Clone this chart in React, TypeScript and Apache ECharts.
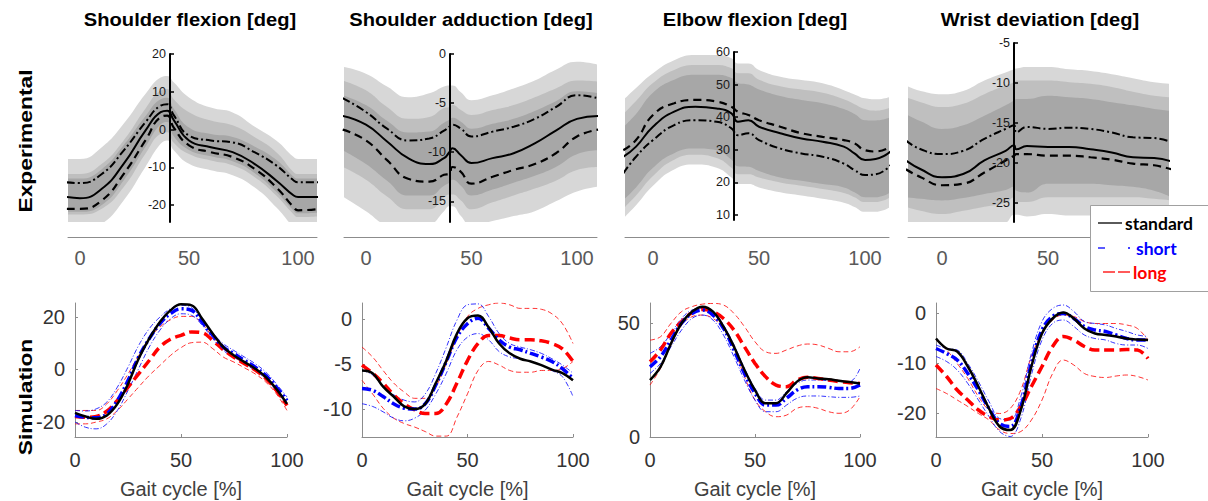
import React, { useEffect, useRef } from "react";
import * as echarts from "echarts";

// ---------------- data ----------------
const TITLES = ["Shoulder flexion [deg]", "Shoulder adduction [deg]", "Elbow flexion [deg]", "Wrist deviation [deg]"];
const ROW_LABELS = ["Experimental", "Simulation"];
const X_TICKS = [0, 50, 100];
const X_TICKS_LAST_TOP = [0, 50];
const X_NAME = "Gait cycle [%]";
const LEGEND_NAMES = ["standard", "short", "long"];

// Experimental panels (x in % gait cycle)
const EXP1_X = [-6, 0, 10, 20, 30, 37, 40, 43, 50, 60, 70, 80, 90, 98, 100, 110];
const EXP1_MEAN = [-17.9, -18.2, -15.7, -9.1, -0.3, 4.6, 5.0, 2.5, -2.9, -4.7, -6.0, -9.1, -13.5, -17.5, -17.9, -17.9];
const EXP1_DASHDOT = [-14, -14.2, -11.8, -5.6, 1.9, 6.3, 6.7, 3.8, -1.6, -2.9, -3.4, -6.0, -9.5, -13.5, -14, -14];
const EXP1_DASHED = [-21, -21, -18.8, -11.8, -2.9, 3.3, 3.7, 0.5, -4.2, -6.0, -7.3, -10.4, -15.3, -20.6, -21.4, -21];
const EXP1_OUT_HI = [-7.8, -7.8, -4.7, 1.5, 9.4, 13.8, 14.2, 12.5, 8.5, 5.8, 4.5, 0.8, -2.9, -7.3, -7.8, -7.8];
const EXP1_OUT_LO = [-27, -27, -25, -18.8, -9.9, -3.8, -2.9, -5.5, -9.1, -10.8, -12.1, -15.3, -20.6, -26, -27, -27];
const EXP1_MID_HI = [-11.8, -11.8, -9.1, -2.9, 5.5, 10.3, 10.7, 8, 4.6, 2.4, 1.1, -2, -6, -11.3, -11.8, -11.8];
const EXP1_MID_LO = [-22.5, -22.5, -21, -15.3, -6.4, -1.1, -0.7, -3.5, -6.5, -8.2, -9.5, -12.6, -17.5, -22.5, -23.2, -23];
const EXP1_IN_HI = [-13, -13, -10.5, -4.2, 3.5, 8, 8.4, 5.5, 0.5, -1.2, -2, -4.5, -8, -12.5, -13, -13];
const EXP1_IN_LO = [-21.8, -21.8, -20, -13.5, -4.6, 1.4, 2, -1.8, -5.4, -7.1, -8.4, -11.5, -16.5, -21.5, -22.2, -22];
const EXP1_YTICKS = [-20, -10, 0, 10, 20];

const EXP2_X = [-11, 0, 10, 20, 30, 37, 39.5, 41, 45, 50, 60, 70, 80, 90, 100, 110];
const EXP2_MEAN = [-6.3, -7.2, -8.9, -10.6, -11.2, -10.6, -10.0, -9.6, -10.3, -11.1, -10.6, -10.1, -9.1, -7.8, -6.6, -6.3];
const EXP2_DASHDOT = [-4.5, -5.9, -7.6, -8.8, -8.6, -7.8, -7.4, -7.2, -7.6, -8.4, -7.9, -7.4, -6.6, -5.4, -4.2, -4.5];
const EXP2_DASHED = [-7.7, -8.8, -10.8, -12.7, -13.0, -12.3, -12.2, -11.5, -12.0, -13.2, -12.5, -11.8, -11.2, -10.1, -8.4, -7.7];
const EXP2_OUT_HI = [-1.3, -2.0, -3.3, -4.4, -4.0, -3.3, -3.2, -3.2, -3.9, -4.7, -4.2, -3.5, -2.7, -1.6, -0.8, -1.1];
const EXP2_OUT_LO = [-14.5, -16, -17.5, -18, -17.5, -16, -15.5, -15.5, -16.5, -17.5, -17, -16.5, -16, -15, -14, -13.5];
const EXP2_MID_HI = [-2.7, -3.7, -5.4, -6.6, -6.4, -5.5, -5.4, -5.2, -5.7, -6.2, -5.7, -5.2, -4.4, -3.5, -2.7, -2.8];
const EXP2_MID_LO = [-11.5, -12.8, -14.5, -15.8, -15.8, -14.6, -14.3, -14.3, -14.9, -15.8, -15.1, -14.4, -13.7, -12.9, -11.8, -11.5];
const EXP2_IN_HI = [-4.2, -5.2, -6.8, -8.0, -7.9, -7.0, -6.7, -6.5, -6.9, -7.6, -7.1, -6.6, -5.8, -4.8, -3.8, -4.0];
const EXP2_IN_LO = [-9.8, -11.2, -12.9, -14.4, -14.4, -13.4, -13.1, -12.8, -13.4, -14.4, -13.8, -13.1, -12.4, -11.5, -10.2, -9.8];
const EXP2_YTICKS = [-15, -10, -5, 0];

const EXP3_X = [-14, -8, 0, 10, 20, 30, 37, 40, 45, 50, 60, 70, 80, 90, 95, 100, 105, 112];
const EXP3_MEAN = [27.9, 31, 37.1, 41.7, 43.2, 42.7, 41.2, 38.6, 39.1, 37.1, 35.1, 33.5, 32.5, 31, 28.9, 26.9, 27.2, 29.5];
const EXP3_DASHED = [29.9, 33, 40.7, 44.3, 45.3, 44.8, 43.2, 41.7, 40.7, 39.1, 37.1, 35.1, 34, 33, 32, 29.9, 29.5, 31];
const EXP3_DASHDOT = [22.8, 27.9, 33, 37.6, 39.1, 38.6, 36.6, 34.5, 35.1, 33, 30.4, 28.9, 27.9, 25.8, 23.8, 22.3, 22.5, 25.3];
const EXP3_OUT_HI = [45.3, 49, 53.5, 57.5, 59.1, 59.1, 58.1, 56.5, 56.5, 54.5, 52.4, 51.4, 50.4, 48.3, 47, 45.8, 45.5, 46.3];
const EXP3_OUT_LO = [9, 13, 19, 24, 25.5, 24.5, 21.5, 19.5, 19.5, 18.5, 17, 16, 15, 13.8, 12.5, 11, 11, 12.5];
const EXP3_MID_HI = [41, 45, 50.5, 54.5, 56, 56, 55, 53.5, 53.5, 51.5, 49.5, 48.5, 47.5, 45.5, 44, 42.5, 42, 43];
const EXP3_MID_LO = [12, 16, 22, 27, 28.5, 27.5, 24.5, 22.5, 22.5, 21.5, 20, 19, 18, 16.8, 15.5, 14, 14, 15.5];
const EXP3_IN_HI = [37, 41, 47.5, 51.5, 53, 53, 52, 50.5, 50, 48.5, 46.5, 45.3, 44.3, 42.5, 41, 39.1, 39, 40];
const EXP3_IN_LO = [14.6, 18.5, 24.5, 29, 30.4, 29.9, 27, 25, 24.8, 23.5, 21.5, 20.5, 19.5, 18.5, 17, 15.5, 15.5, 17];
const EXP3_YTICKS = [10, 20, 30, 40, 50, 60];

const EXP4_X = [-17, -10, 0, 10, 20, 30, 34, 35, 40, 50, 60, 70, 80, 90, 100, 108];
const EXP4_MEAN = [-19.7, -20.8, -21.8, -21.4, -19.7, -18.5, -17.8, -18.3, -17.9, -18, -18, -18.3, -18.7, -19.3, -19.4, -19.8];
const EXP4_DASHDOT = [-17.2, -18.3, -18.9, -18.5, -17, -15.75, -15.3, -16.2, -15.5, -15.75, -15.6, -15.75, -16.2, -16.8, -16.9, -17.4];
const EXP4_DASHED = [-20.8, -21.8, -22.8, -22.6, -21.2, -19.7, -19.1, -18.9, -18.9, -19.1, -19.1, -19.3, -19.6, -20.1, -20.3, -20.8];
const EXP4_OUT_HI = [-10.3, -11, -11.4, -11, -9.7, -8.7, -8.3, -8.2, -8, -8, -8.3, -8.5, -8.9, -9.4, -9.9, -10.1];
const EXP4_OUT_LO = [-28, -28, -28, -28, -28, -27.5, -26.5, -26.5, -26.7, -26.4, -26.6, -26.6, -26.8, -26.8, -26.8, -26.8];
const EXP4_MID_HI = [-11.8, -12.4, -13, -12.6, -11.4, -10.3, -9.9, -9.7, -9.7, -9.7, -9.9, -10.1, -10.5, -11.1, -11.6, -11.8];
const EXP4_MID_LO = [-25.5, -26, -26.4, -26, -25.5, -25, -24.3, -24.9, -24.9, -24.3, -24.3, -24.3, -24.3, -24.3, -24.5, -24.7];
const EXP4_IN_HI = [-13.9, -14.8, -15.75, -15.3, -14.1, -12.8, -12.2, -12, -12, -11.6, -11.8, -12, -12.4, -12.8, -13.25, -13.5];
const EXP4_IN_LO = [-24.3, -24.5, -24.7, -24.4, -23.9, -23.4, -23, -23.5, -23.7, -22.6, -22.6, -22.6, -22.8, -23, -23.5, -24.3];
const EXP4_YTICKS = [-25, -20, -15, -10, -5];

// Simulation panels
const SIM_X = [0, 5, 10, 15, 20, 25, 30, 35, 40, 45, 50, 55, 60, 65, 70, 75, 80, 85, 90, 95, 100];

const SIM1_STD = [-16.5, -17.9, -18.8, -17.5, -13.1, -5.5, 4.1, 11.7, 18.0, 22.5, 24.8, 24.4, 19.3, 13.6, 8.5, 5.3, 2.8, 0.3, -2.9, -7.4, -13.1];
const SIM1_SHORT = [-17.5, -18.2, -18.4, -16.9, -11.8, -4.2, 4.7, 11.7, 17.4, 21.2, 23.1, 22.5, 18.0, 13.0, 8.5, 6.0, 3.4, 0.9, -2.3, -6.7, -11.8];
const SIM1_SHORT_HI = [-15.6, -15.8, -15.0, -12.4, -6.7, 0.9, 9.1, 15.5, 19.9, 23.1, 24.4, 23.5, 18.7, 13.8, 9.8, 7.2, 4.7, 2.2, -1.0, -5.5, -10.5];
const SIM1_SHORT_LO = [-20.0, -22.0, -22.6, -20.7, -15.6, -8.0, 0.3, 8.5, 14.9, 19.3, 21.2, 20.6, 16.8, 11.7, 7.2, 4.7, 2.2, -0.4, -3.6, -8.0, -13.1];
const SIM1_LONG = [-17.9, -18.2, -17.9, -15.9, -11.8, -6.7, -1.7, 3.4, 8.5, 11.5, 13.0, 14.3, 14.0, 11.0, 7.5, 4.6, 2.2, -0.2, -3.4, -8.0, -13.7];
const SIM1_LONG_HI = [-15.6, -15.6, -15.6, -13.1, -8.0, -1.7, 5.3, 11.7, 16.1, 18.9, 20.2, 20.2, 17.4, 12.3, 7.9, 4.7, 2.2, -0.4, -3.6, -8.6, -14.3];
const SIM1_LONG_LO = [-20.7, -20.7, -20.0, -18.8, -15.6, -11.2, -6.7, -2.3, 1.5, 5.3, 8.3, 10.2, 10.4, 7.9, 4.7, 2.8, 0.6, -1.7, -4.8, -9.3, -15.6];
const SIM1_YTICKS = [-20, 0, 20];

const SIM2_STD = [-5.7, -6.0, -7.5, -8.6, -9.7, -10.0, -9.4, -7.1, -4.6, -1.6, 0.1, 0.4, -0.9, -2.7, -3.8, -4.4, -4.7, -5.1, -5.6, -6.0, -6.8];
const SIM2_SHORT = [-7.7, -7.9, -8.6, -9.4, -9.9, -10.0, -9.4, -7.3, -4.7, -2.0, -0.5, 0.1, -1.0, -2.3, -3.1, -3.4, -3.8, -4.2, -4.7, -5.5, -6.6];
const SIM2_SHORT_HI = [-5.7, -6.2, -7.5, -8.4, -9.0, -9.2, -8.3, -6.0, -3.1, -0.1, 1.6, 1.7, 0.3, -1.6, -2.7, -3.1, -3.4, -3.8, -4.4, -5.1, -6.0];
const SIM2_SHORT_LO = [-9.4, -9.7, -10.3, -11.0, -11.3, -11.0, -10.1, -8.3, -6.0, -3.4, -2.0, -1.6, -2.3, -3.6, -4.2, -4.4, -4.7, -5.1, -5.7, -6.4, -8.6];
const SIM2_LONG = [-5.1, -6.0, -7.1, -8.4, -9.4, -10.1, -10.5, -10.5, -9.4, -7.1, -4.6, -2.7, -1.8, -1.8, -2.1, -2.3, -2.3, -2.4, -2.7, -3.3, -4.7];
const SIM2_LONG_HI = [-3.1, -4.2, -5.7, -7.1, -8.1, -8.8, -8.8, -7.5, -4.9, -2.0, 0.3, 1.2, 1.6, 1.8, 1.6, 1.2, 1.2, 1.1, 0.6, -0.5, -2.7];
const SIM2_LONG_LO = [-6.8, -8.3, -9.9, -11.0, -11.6, -12.0, -12.5, -13.0, -13.0, -10.9, -8.3, -5.7, -4.7, -5.1, -5.7, -5.9, -5.9, -5.7, -5.7, -5.5, -4.7];
const SIM2_YTICKS = [-10, -5, 0];

const SIM3_STD = [25, 30.8, 41, 49.9, 55, 57.2, 55, 48.4, 39.6, 29.4, 20.6, 14.8, 14.8, 19.2, 24.3, 26.2, 25.7, 25.3, 24.7, 24.1, 23.5];
const SIM3_SHORT = [30.8, 35.2, 42.5, 49.9, 54.2, 55.7, 53.5, 47.7, 38.2, 27.9, 19.2, 14.0, 14.0, 17.0, 20.6, 22.1, 22.1, 21.8, 21.3, 21.3, 22.8];
const SIM3_SHORT_HI = [36.7, 39.6, 45.5, 52, 55.7, 56.4, 55, 49.1, 40.4, 30.1, 21.3, 16.2, 16.2, 19.9, 23.5, 25, 25, 24.7, 24.3, 24.3, 30.1];
const SIM3_SHORT_LO = [27.9, 32.3, 39.6, 46.9, 52, 53.5, 51.3, 44.7, 35.2, 25, 16.2, 11.1, 11.1, 14, 17, 18, 18, 17.7, 17.4, 17.4, 18];
const SIM3_LONG = [33, 38.2, 45.5, 50.6, 54.5, 56, 55, 52, 46.9, 39.6, 32.3, 26.5, 22.8, 22.1, 25, 26.2, 25.7, 25, 24.3, 23.8, 23.5];
const SIM3_LONG_HI = [42.5, 44, 49.9, 55, 57.2, 58.3, 58.6, 57.9, 54.2, 48.4, 41.8, 37.4, 36.7, 38.2, 39.9, 40.8, 40.4, 38.9, 37.4, 37.4, 39.6];
const SIM3_LONG_LO = [22.8, 30.1, 40.4, 49.1, 52.8, 53.5, 52, 47.7, 38.9, 26.5, 16.2, 11.1, 8.9, 9.6, 12.6, 13.3, 12.6, 11.1, 10.4, 11.8, 17.7];
const SIM3_YTICKS = [0, 50];

const SIM4_STD = [-5.1, -7.1, -7.7, -10.7, -14.7, -19.1, -22.7, -23.4, -19.4, -10.7, -4.1, -1.1, 0.1, -1.1, -3.1, -4.1, -4.4, -4.7, -5.1, -5.3, -5.4];
const SIM4_SHORT = [-7.1, -8.1, -9.4, -12.1, -15.4, -19.1, -22.1, -22.7, -18.7, -10.1, -3.4, -0.7, -0.1, -1.1, -2.7, -3.4, -3.7, -4.4, -5.1, -5.4, -5.4];
const SIM4_SHORT_HI = [-6.4, -7.1, -7.4, -10.1, -13.7, -17.7, -21.1, -21.4, -16.7, -8.1, -1.7, 0.9, 1.6, 0.3, -1.7, -2.1, -2.4, -3.1, -3.7, -4.4, -4.7];
const SIM4_SHORT_LO = [-8.7, -9.7, -11.4, -14.1, -17.4, -20.7, -23.7, -24.7, -21.1, -12.4, -5.4, -2.1, -1.4, -2.7, -4.4, -5.1, -5.4, -6.1, -6.4, -6.4, -7.1];
const SIM4_LONG = [-10.4, -12.7, -15.4, -17.4, -19.4, -20.7, -21.4, -21.1, -18.7, -14.7, -10.7, -6.7, -4.7, -5.4, -6.7, -7.4, -7.4, -7.4, -7.3, -7.4, -9.1];
const SIM4_LONG_HI = [-5.4, -7.4, -10.1, -13.1, -16.7, -19.4, -20.1, -19.1, -15.4, -8.7, -4.1, -1.4, -0.4, -0.7, -1.7, -2.1, -2.1, -2.1, -2.4, -3.1, -5.4];
const SIM4_LONG_LO = [-15.1, -16.1, -17.4, -18.7, -20.1, -21.4, -23.4, -24.1, -23.7, -21.4, -17.4, -12.1, -9.4, -10.4, -12.1, -12.7, -12.9, -12.6, -12.4, -12.7, -13.4];
const SIM4_YTICKS = [-20, -10, 0];

// ---------------- assembly ----------------
const EXP = [
  { x: EXP1_X, mean: EXP1_MEAN, dashDot: EXP1_DASHDOT, dashed: EXP1_DASHED, outHi: EXP1_OUT_HI, outLo: EXP1_OUT_LO, midHi: EXP1_MID_HI, midLo: EXP1_MID_LO, inHi: EXP1_IN_HI, inLo: EXP1_IN_LO, yTicks: EXP1_YTICKS, xTicks: X_TICKS },
  { x: EXP2_X, mean: EXP2_MEAN, dashDot: EXP2_DASHDOT, dashed: EXP2_DASHED, outHi: EXP2_OUT_HI, outLo: EXP2_OUT_LO, midHi: EXP2_MID_HI, midLo: EXP2_MID_LO, inHi: EXP2_IN_HI, inLo: EXP2_IN_LO, yTicks: EXP2_YTICKS, xTicks: X_TICKS },
  { x: EXP3_X, mean: EXP3_MEAN, dashDot: EXP3_DASHDOT, dashed: EXP3_DASHED, outHi: EXP3_OUT_HI, outLo: EXP3_OUT_LO, midHi: EXP3_MID_HI, midLo: EXP3_MID_LO, inHi: EXP3_IN_HI, inLo: EXP3_IN_LO, yTicks: EXP3_YTICKS, xTicks: X_TICKS },
  { x: EXP4_X, mean: EXP4_MEAN, dashDot: EXP4_DASHDOT, dashed: EXP4_DASHED, outHi: EXP4_OUT_HI, outLo: EXP4_OUT_LO, midHi: EXP4_MID_HI, midLo: EXP4_MID_LO, inHi: EXP4_IN_HI, inLo: EXP4_IN_LO, yTicks: EXP4_YTICKS, xTicks: X_TICKS_LAST_TOP },
];
const SIM = [
  { std: SIM1_STD, short: SIM1_SHORT, shortHi: SIM1_SHORT_HI, shortLo: SIM1_SHORT_LO, long: SIM1_LONG, longHi: SIM1_LONG_HI, longLo: SIM1_LONG_LO, yTicks: SIM1_YTICKS },
  { std: SIM2_STD, short: SIM2_SHORT, shortHi: SIM2_SHORT_HI, shortLo: SIM2_SHORT_LO, long: SIM2_LONG, longHi: SIM2_LONG_HI, longLo: SIM2_LONG_LO, yTicks: SIM2_YTICKS },
  { std: SIM3_STD, short: SIM3_SHORT, shortHi: SIM3_SHORT_HI, shortLo: SIM3_SHORT_LO, long: SIM3_LONG, longHi: SIM3_LONG_HI, longLo: SIM3_LONG_LO, yTicks: SIM3_YTICKS },
  { std: SIM4_STD, short: SIM4_SHORT, shortHi: SIM4_SHORT_HI, shortLo: SIM4_SHORT_LO, long: SIM4_LONG, longHi: SIM4_LONG_HI, longLo: SIM4_LONG_LO, yTicks: SIM4_YTICKS },
];

// ---------------- layout / style ----------------
const FONT = '"Liberation Sans", Arial, Helvetica, sans-serif';
const TOP_LAYOUT = [
  { left: 68, width: 249, top: 54, height: 168, xMin: -5.5, xMax: 108.7, yMin: -24.5, yMax: 20, axisX: 170, lineY: 237 },
  { left: 344, width: 253, top: 54, height: 168, xMin: -10.4, xMax: 109.5, yMin: -17.1, yMax: 0, axisX: 450, lineY: 237 },
  { left: 625, width: 264, top: 52, height: 168, xMin: -13.2, xMax: 111.3, yMin: 8.5, yMax: 60, axisX: 734, lineY: 237 },
  { left: 908, width: 261, top: 43, height: 179, xMin: -16, xMax: 107, yMin: -27.4, yMax: -5, axisX: 1014, lineY: 237 },
];
const BOT_LAYOUT = [
  { left: 75, width: 212, top: 303, height: 134, yMin: -25.7, yMax: 25.3 },
  { left: 362, width: 211, top: 303, height: 134, yMin: -13.1, yMax: 1.8 },
  { left: 650, width: 210, top: 303, height: 134, yMin: 0, yMax: 58.8 },
  { left: 936, width: 212, top: 303, height: 134, yMin: -24.8, yMax: 2 },
];
const TITLE_X = [190, 471, 755, 1040];
const SHADE_LIGHT = "#d7d7d7";
const SHADE_MID = "#bfbfbf";
const SHADE_DARK = "#a7a7a7";
const BLUE = "#0000ff";
const RED = "#ff0000";
const SMOOTH = 0.5;

const zip = (xs: number[], ys: number[]) => xs.map((x, i) => [x, ys[i]]);

function buildOption() {
  const grid: any[] = [];
  const xAxis: any[] = [];
  const yAxis: any[] = [];
  const series: any[] = [];

  EXP.forEach((p, i) => {
    const L = TOP_LAYOUT[i];
    const gi = grid.length;
    grid.push({ left: L.left, top: L.top, width: L.width, height: L.height, containLabel: false, outerBoundsMode: "none" });
    xAxis.push({
      type: "value", gridIndex: gi, min: L.xMin, max: L.xMax,
      offset: L.lineY - L.top - L.height,
      axisLine: { show: true, onZero: false, lineStyle: { color: "#8c8c8c", width: 1 } },
      axisTick: { show: false }, splitLine: { show: false },
      axisLabel: { customValues: p.xTicks, fontSize: 20, color: "#595959", margin: 11, fontFamily: FONT },
    });
    yAxis.push({ type: "value", gridIndex: gi, min: L.yMin, max: L.yMax, show: false });

    const bands: [number[], string][] = [
      [p.outHi, SHADE_LIGHT], [p.midHi, SHADE_MID], [p.inHi, SHADE_DARK],
      [p.inLo, SHADE_MID], [p.midLo, SHADE_LIGHT], [p.outLo, "#ffffff"],
    ];
    bands.forEach(([vals, color]) => {
      series.push({
        type: "line", xAxisIndex: gi, yAxisIndex: gi, data: zip(p.x, vals),
        smooth: SMOOTH, symbol: "none", silent: true, z: 1,
        lineStyle: { opacity: 0, width: 0 }, areaStyle: { color, opacity: 1, origin: "start" },
      });
    });
    const lines: [number[], any][] = [
      [p.mean, { color: "#000", width: 2, type: "solid" }],
      [p.dashDot, { color: "#000", width: 2, type: [8, 3, 2, 3] }],
      [p.dashed, { color: "#000", width: 2.2, type: [8, 5] }],
    ];
    lines.forEach(([vals, ls]) => {
      series.push({
        type: "line", xAxisIndex: gi, yAxisIndex: gi, data: zip(p.x, vals),
        smooth: SMOOTH, symbol: "none", silent: true, z: 3, lineStyle: ls,
      });
    });

    // the vertical axis drawn inside the panel
    const ai = grid.length;
    grid.push({ left: L.axisX, top: L.top, width: 20, height: L.height, containLabel: false, outerBoundsMode: "none" });
    xAxis.push({ type: "value", gridIndex: ai, min: 0, max: 1, show: false });
    yAxis.push({
      type: "value", gridIndex: ai, min: L.yMin, max: L.yMax, z: 10,
      axisLine: { show: true, onZero: false, lineStyle: { color: "#000", width: 2 } },
      axisTick: { show: true, inside: true, length: 4, customValues: p.yTicks, lineStyle: { color: "#000", width: 1.5 } },
      axisLabel: { customValues: p.yTicks, fontSize: 12.5, color: "#1a1a1a", margin: 4, fontFamily: FONT },
      splitLine: { show: false },
    });
  });

  SIM.forEach((p, i) => {
    const L = BOT_LAYOUT[i];
    const gi = grid.length;
    grid.push({ left: L.left, top: L.top, width: L.width, height: L.height, containLabel: false, outerBoundsMode: "none" });
    xAxis.push({
      type: "value", gridIndex: gi, min: 0, max: 100,
      axisLine: { show: true, onZero: false, lineStyle: { color: "#8c8c8c", width: 1 } },
      axisTick: { show: true, inside: true, length: 3, customValues: X_TICKS, lineStyle: { color: "#8c8c8c" } },
      axisLabel: { customValues: X_TICKS, fontSize: 20, color: "#333", margin: 13, fontFamily: FONT },
      splitLine: { show: false },
      name: X_NAME, nameLocation: "middle", nameGap: 42,
      nameTextStyle: { fontSize: 20, color: "#404040", fontFamily: FONT },
    });
    yAxis.push({
      type: "value", gridIndex: gi, min: L.yMin, max: L.yMax,
      axisLine: { show: true, onZero: false, lineStyle: { color: "#8c8c8c", width: 1 } },
      axisTick: { show: true, inside: true, length: 3, customValues: p.yTicks, lineStyle: { color: "#8c8c8c" } },
      axisLabel: { customValues: p.yTicks, fontSize: 20, color: "#333", margin: 10, fontFamily: FONT },
      splitLine: { show: false },
    });
    const lines: [number[], any, number][] = [
      [p.longHi, { color: RED, width: 1, type: [5, 3], opacity: 0.8 }, 2],
      [p.longLo, { color: RED, width: 1, type: [5, 3], opacity: 0.8 }, 2],
      [p.shortHi, { color: BLUE, width: 1, type: [5, 2, 1, 2], opacity: 0.8 }, 2],
      [p.shortLo, { color: BLUE, width: 1, type: [5, 2, 1, 2], opacity: 0.8 }, 2],
      [p.long, { color: RED, width: 3.5, type: [10, 5] }, 3],
      [p.short, { color: BLUE, width: 3.5, type: [9, 3, 2, 3] }, 4],
      [p.std, { color: "#000", width: 2.5, type: "solid" }, 5],
    ];
    lines.forEach(([vals, ls, z]) => {
      series.push({
        type: "line", xAxisIndex: gi, yAxisIndex: gi, data: zip(SIM_X, vals),
        smooth: 0.4, symbol: "none", silent: true, z, lineStyle: ls,
      });
    });
  });

  const graphic: any[] = [];
  TITLES.forEach((t, i) => {
    graphic.push({
      type: "text", x: TITLE_X[i], y: 20, scaleX: 1.15,
      style: { text: t, font: `bold 17.5px ${FONT}`, fill: "#000", align: "center", verticalAlign: "middle" },
    });
  });
  graphic.push({
    type: "text", x: 25, y: 141, rotation: Math.PI / 2, scaleX: 1.2,
    style: { text: ROW_LABELS[0], font: `bold 19px ${FONT}`, fill: "#000", align: "center", verticalAlign: "middle" },
  });
  graphic.push({
    type: "text", x: 25, y: 397, rotation: Math.PI / 2, scaleX: 1.2,
    style: { text: ROW_LABELS[1], font: `bold 19px ${FONT}`, fill: "#000", align: "center", verticalAlign: "middle" },
  });

  // legend box
  const LF = `bold 17.5px Lato, ${FONT}`;
  graphic.push({ type: "rect", z: 100, shape: { x: 1090.5, y: 205.5, width: 130, height: 86 }, style: { fill: "#fff", stroke: "#a0a0a0", lineWidth: 1 } });
  graphic.push({ type: "line", z: 101, shape: { x1: 1098, y1: 223, x2: 1122, y2: 223 }, style: { stroke: "#000", lineWidth: 1.3 } });
  graphic.push({ type: "text", z: 101, x: 1125, y: 223, style: { text: LEGEND_NAMES[0], font: LF, fill: "#000", verticalAlign: "middle" } });
  graphic.push({ type: "line", z: 101, shape: { x1: 1098, y1: 248, x2: 1105, y2: 248 }, style: { stroke: BLUE, lineWidth: 1.3 } });
  graphic.push({ type: "line", z: 101, shape: { x1: 1128, y1: 248, x2: 1130, y2: 248 }, style: { stroke: BLUE, lineWidth: 1.3 } });
  graphic.push({ type: "text", z: 101, x: 1136, y: 248, style: { text: LEGEND_NAMES[1], font: LF, fill: BLUE, verticalAlign: "middle" } });
  graphic.push({ type: "line", z: 101, shape: { x1: 1103, y1: 272, x2: 1115, y2: 272 }, style: { stroke: RED, lineWidth: 1.3 } });
  graphic.push({ type: "line", z: 101, shape: { x1: 1118, y1: 272, x2: 1130, y2: 272 }, style: { stroke: RED, lineWidth: 1.3 } });
  graphic.push({ type: "text", z: 101, x: 1133, y: 272, style: { text: LEGEND_NAMES[2], font: LF, fill: RED, verticalAlign: "middle" } });

  return {
    animation: false,
    backgroundColor: "#ffffff",
    textStyle: { fontFamily: FONT },
    grid, xAxis, yAxis, series, graphic,
  };
}

export default function App() {
  const ref = useRef<HTMLDivElement>(null);
  useEffect(() => {
    const chart = echarts.init(ref.current as HTMLDivElement, null, { renderer: "svg" });
    chart.setOption(buildOption() as any);
    return () => chart.dispose();
  }, []);
  return (
    <div
      ref={ref}
      style={{ position: "fixed", left: 0, top: 0, width: 1208, height: 501, background: "#fff" }}
    />
  );
}
